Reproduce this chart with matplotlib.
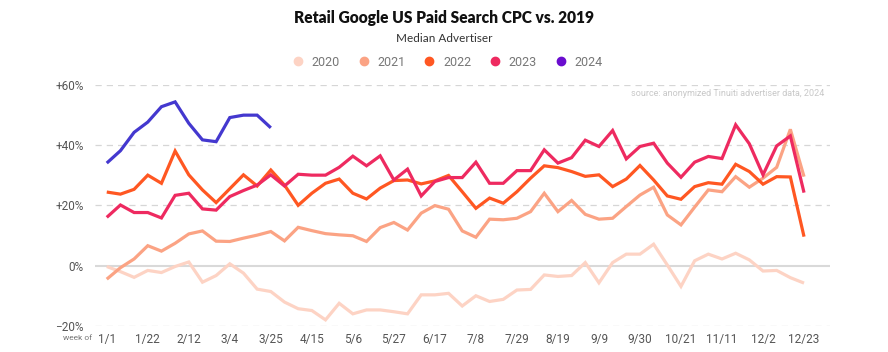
import matplotlib
matplotlib.use("Agg")
import matplotlib.pyplot as plt
from matplotlib.lines import Line2D

years = ["2020", "2021", "2022", "2023", "2024"]
tick_labels = ["1/1", "1/22", "2/12", "3/4", "3/25", "4/15", "5/6", "5/27", "6/17",
               "7/8", "7/29", "8/19", "9/9", "9/30", "10/21", "11/11", "12/2", "12/23"]

v2020 = [-0.3, -2.0, -3.9, -1.6, -2.3, -0.3, 1.2, -5.5, -3.3, 0.6,
         -2.5, -7.8, -8.6, -12.1, -14.3, -14.9, -18.0, -12.5, -16.0, -14.7,
         -14.7, -15.3, -16.0, -9.7, -9.7, -9.2, -13.4, -10.0, -11.9, -11.2,
         -8.1, -7.9, -3.1, -3.6, -3.3, 1.0, -5.7, 1.0, 3.8, 3.8,
         7.1, 0.2, -6.9, 1.6, 3.8, 2.2, 4.1, 1.9, -1.8, -1.6, -4.0, -5.8]
v2021 = [-4.5, -0.7, 2.2, 6.6, 4.8, 7.4, 10.5, 11.5, 8.1, 8.0, 9.1, 10.1, 11.3, 8.2,
         12.7, 11.6, 10.6, 10.2, 9.9,
         8.0, 12.6, 14.3, 11.8, 17.4, 19.9, 18.7, 11.5, 9.4, 15.4, 15.2, 15.7, 17.9,
         24.0, 17.9, 21.6, 17.0, 15.4, 15.7,
         19.6, 23.4, 26.0, 16.8, 13.5, 19.4, 25.1, 24.5, 29.5, 26.0, 29.0, 32.6, 45.2, 29.5]
v2022 = [24.4, 23.7, 25.3, 30.0, 27.3, 38.0, 30.1, 25.1, 20.9, 25.5, 30.1, 26.4, 31.7,
         26.7, 20.0, 24.0, 27.3, 28.7, 24.0,
         22.1, 25.7, 28.2, 28.4, 27.1, 28.1, 29.9, 24.5, 19.0, 22.4, 20.7, 24.5, 29.0,
         33.1, 32.5, 31.2, 29.6, 30.1, 26.2,
         28.7, 33.2, 28.4, 23.1, 22.0, 26.2, 27.5, 27.0, 33.6, 31.2, 27.0, 29.5, 29.4, 9.6]
v2023 = [16.0, 20.1, 17.6, 17.6, 15.8, 23.3, 24.0, 18.8, 18.4, 22.9, 24.9, 26.7, 30.1,
         26.4, 30.3, 30.0, 30.0, 32.6, 36.3,
         33.1, 36.4, 28.4, 32.0, 23.1, 27.9, 29.2, 29.2, 34.3, 27.3, 27.3, 31.5, 31.5,
         38.4, 34.0, 35.8, 41.6, 39.5, 44.8,
         35.4, 39.5, 40.6, 34.0, 29.3, 34.3, 36.2, 35.5, 46.7, 40.4, 30.1, 39.7, 43.0, 24.2]
v2024 = [34.0, 38.1, 44.2, 47.6, 52.7, 54.3, 47.2, 41.7, 41.1, 49.1, 49.9, 49.9, 45.7]

series = [v2020, v2021, v2022, v2023, v2024]
line_colors = ["#FDD3C4", "#FBA384", "#FF5722", "#EE2A60", "#4438CF"]
legend_colors = ["#FDD3C4", "#FBA384", "#FF5722", "#EE2A60", "#6A0DCF"]

fig = plt.figure(figsize=(8.88, 3.52), dpi=100)
ax = fig.add_axes([95 / 888, (352 - 325.9) / 352, (830 - 95) / 888, (325.9 - 84.7) / 352])

for vals, col in zip(series, line_colors):
    ax.plot(range(len(vals)), vals, color=col, lw=2.3, solid_joinstyle="miter",
            solid_capstyle="butt", zorder=3)

ax.set_xlim(-0.86, 52.9)
ax.set_ylim(-20, 60)
yt = [-20, 0, 20, 40, 60]
for y in yt:
    if y == 0:
        ax.axhline(0, color="#D9D9D9", lw=1.5, zorder=1)
    else:
        ax.axhline(y, color="#D6D6D6", lw=0.9, ls=(0, (5, 4)), zorder=1)
ax.set_yticks(yt)
ax.set_yticklabels(["\u221220%", "0%", "+20%", "+40%", "+60%"])
ax.set_xticks(range(0, 52, 3))
ax.set_xticklabels(tick_labels)
ax.tick_params(length=0, labelsize=8.5, labelcolor="#555555")
ax.tick_params(axis="y", pad=8)
ax.tick_params(axis="x", pad=5)
for lab in ax.get_xticklabels() + ax.get_yticklabels():
    lab.set_fontfamily("Roboto")
    lab.set_fontweight("normal")
for s in ax.spines.values():
    s.set_visible(False)

fig.text(0.5, 1 - 18 / 352, "Retail Google US Paid Search CPC vs. 2019", ha="center",
         va="center", fontsize=11.2, fontweight="heavy", family="Lato", color="#111111")
fig.text(0.5, 1 - 38 / 352, "Median Advertiser", ha="center", va="center",
         fontsize=8.5, family="Lato", color="#333333")
fig.text(824 / 888, 1 - 94 / 352, "source: anonymized Tinuiti advertiser data, 2024",
         ha="right", va="center", fontsize=6.5, family="Roboto", color="#C8C8C8")
fig.text(78 / 888, 1 - 338 / 352, "week of", ha="center", va="center",
         fontsize=6, family="Roboto", color="#777777")

handles = [Line2D([], [], ls="none", marker="o", ms=6, color=c, label=y)
           for c, y in zip(legend_colors, years)]
fig.legend(handles=handles, loc="center", bbox_to_anchor=(0.5, 1 - 62 / 352), ncol=5,
           frameon=False, handletextpad=0.1, columnspacing=0.9,
           prop={"family": "Roboto", "size": 9}, labelcolor="#777777")

fig.savefig("out.png", dpi=100)
